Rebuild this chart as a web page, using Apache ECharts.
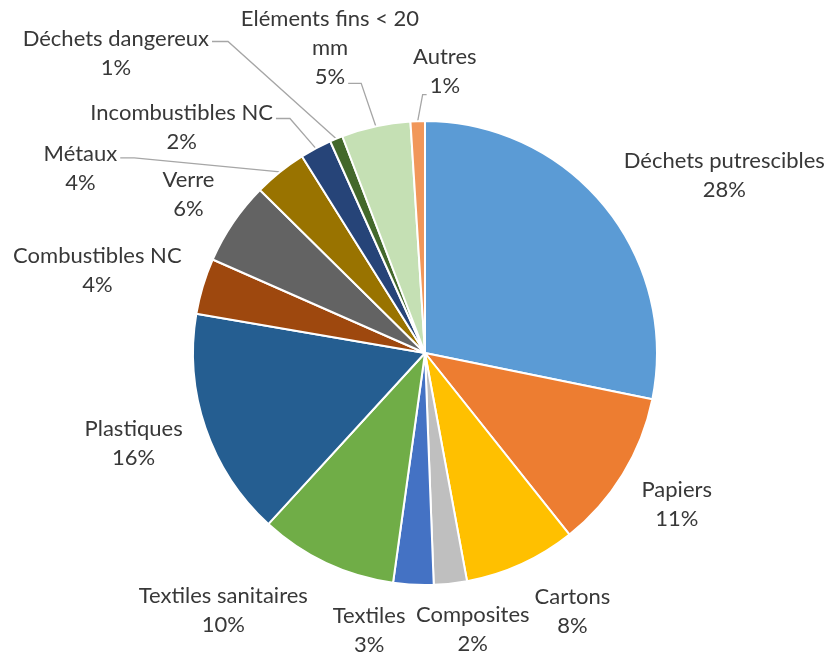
<!DOCTYPE html>
<html>
<head>
<meta charset="utf-8">
<script src="https://cdn.jsdelivr.net/npm/echarts@6/dist/echarts.min.js"></script>
<style>html,body{margin:0;padding:0;background:#ffffff}#c{width:833px;height:655px}</style>
</head>
<body>
<div id="c"></div>
<script>
const categories = ['Déchets putrescibles', 'Papiers', 'Cartons', 'Composites', 'Textiles', 'Textiles sanitaires', 'Plastiques', 'Combustibles NC', 'Verre', 'Métaux', 'Incombustibles NC', 'Déchets dangereux', 'Eléments fins < 20 mm', 'Autres'];
const values = [28.2, 11.1, 7.8, 2.3, 2.8, 9.6, 15.9, 3.9, 5.8, 3.7, 2.2, 0.9, 4.8, 1.0];

// styling / layout (not data)
const colors = ['#5B9BD5', '#ED7D31', '#FFC000', '#BFBFBF', '#4472C4', '#70AD47', '#255E91', '#9E480E', '#636363', '#997300', '#264478', '#43682B', '#C5E0B4', '#F1975A'];
// leader line: [text line index, side of the text it leaves from, vertical offset, elbow length], or null
const leaderSpec = [null, null, null, null, null, null, null, null, null, [0, 'right', 4, 14], [0, 'right', 6, 14], [0, 'right', 3, 16], [2, 'right', 6, 13], [1, 'left', 9, 4]];
const labelWrap = [null, null, null, null, null, null, null, null, null, null, null, null, 190, null];
const labelNudge = [[20,5],[0,0],[24,-5],[13,-11],[-41,-11],[-55,-4],[1,-3],[2,1],[0,4],[-159,41],[-78,29],[-174,-33],[-21,-8],[29,7]];
const CX = 425, CY = 353, R = 232, GAP = 28;
const FONT = 'Lato', FONT_SIZE = 22, LINE_H = 29;

const ctx = document.createElement('canvas').getContext('2d');
ctx.font = FONT_SIZE + 'px ' + FONT;
function wrapText(text, maxW) {
  if (!maxW) return [text];
  const words = text.split(' ');
  const lines = [];
  let cur = '';
  words.forEach(w => {
    const t = cur ? cur + ' ' + w : w;
    if (cur && ctx.measureText(t).width > maxW) { lines.push(cur); cur = w; } else { cur = t; }
  });
  if (cur) lines.push(cur);
  return lines;
}

const total = values.reduce((a, b) => a + b, 0);
const mids = [];
let acc = 0;
values.forEach(v => { mids.push((acc + v / 2) / total * 2 * Math.PI); acc += v; });
const labelLines = categories.map((n, i) => wrapText(n, labelWrap[i]).concat([Math.round(values[i] / total * 100) + '%']));

const chart = echarts.init(document.getElementById('c'), null, {renderer: 'canvas'});
chart.setOption({
  backgroundColor: '#ffffff',
  animation: false,
  series: [{
    type: 'pie',
    center: [CX, CY],
    radius: R,
    startAngle: 90,
    clockwise: true,
    avoidLabelOverlap: false,
    itemStyle: {borderColor: '#ffffff', borderWidth: 2},
    label: {
      show: true,
      position: 'outside',
      formatter: p => labelLines[p.dataIndex].join('\n'),
      fontFamily: FONT, fontSize: FONT_SIZE, color: '#383838', lineHeight: LINE_H
    },
    labelLine: {show: false, length: 10, length2: 14, lineStyle: {color: '#A6A6A6', width: 1.3}},
    labelLayout: function (p) {
      const i = p.dataIndex;
      const a = mids[i];
      const ux = Math.sin(a), uy = -Math.cos(a);
      const w = p.labelRect.width, h = p.labelRect.height;
      const x = CX + (R + GAP) * ux + ux * w / 2 + labelNudge[i][0];
      const y = CY + (R + GAP) * uy + uy * h / 2 + labelNudge[i][1];
      const out = {x: x, y: y, align: 'center', verticalAlign: 'middle'};
      const spec = leaderSpec[i];
      if (spec) {
        const lines = labelLines[i];
        const k = spec[0];
        const lw = ctx.measureText(lines[k]).width;
        const ly = y - lines.length * LINE_H / 2 + LINE_H * (k + 0.5) + spec[2];
        const sgn = spec[1] === 'right' ? 1 : -1;
        const ax = x + sgn * (lw / 2 + 3);
        out.labelLinePoints = [[CX + R * ux, CY + R * uy], [ax + sgn * spec[3], ly], [ax, ly]];
      }
      return out;
    },
    data: categories.map((n, i) => ({name: n, value: values[i], itemStyle: {color: colors[i]}, labelLine: {show: !!leaderSpec[i]}}))
  }]
});
</script>
</body>
</html>
